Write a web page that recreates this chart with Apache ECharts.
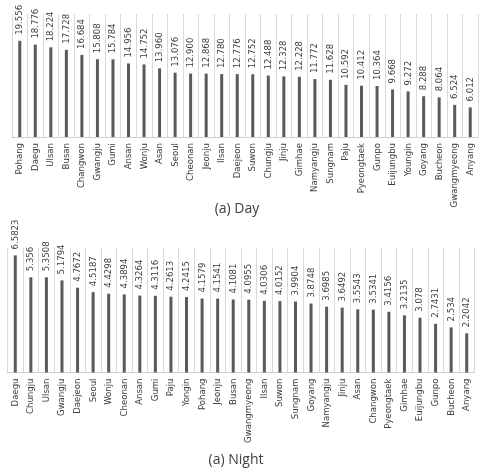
<!DOCTYPE html>
<html>
<head>
<meta charset="utf-8">
<script src="https://cdn.jsdelivr.net/npm/echarts@6/dist/echarts.min.js"></script>
<style>
html,body{margin:0;padding:0;background:#fff;}
#c{width:481px;height:472px;}
</style>
</head>
<body>
<div id="c"></div>
<script>
var dayCats = ['Pohang','Daegu','Ulsan','Busan','Changwon','Gwangju','Gumi','Ansan','Wonju','Asan','Seoul','Cheonan','Jeonju','Ilsan','Daejeon','Suwon','Chungju','Jinju','Gimhae','Namyangju','Sungnam','Paju','Pyeongtaek','Gunpo','Euijungbu','Youngin','Goyang','Bucheon','Gwangmyeong','Anyang'];
var dayVals = [19.556,18.776,18.224,17.728,16.684,15.808,15.784,14.956,14.752,13.960,13.076,12.900,12.868,12.780,12.776,12.752,12.488,12.328,12.228,11.772,11.628,10.592,10.412,10.364,9.668,9.272,8.288,8.064,6.524,6.012];
var nightCats = ['Daegu','Chungju','Ulsan','Gwangju','Daejeon','Seoul','Wonju','Cheonan','Ansan','Gumi','Paju','Yongin','Pohang','Jeonju','Busan','Gwangmyeong','Ilsan','Suwon','Sungnam','Goyang','Namyangju','Jinju','Asan','Changwon','Pyeongtaek','Gimhae','Euijungbu','Gunpo','Bucheon','Anyang'];
var nightVals = [6.5823,5.356,5.3508,5.1794,4.7672,4.5187,4.4298,4.3894,4.3264,4.3116,4.2613,4.2415,4.1579,4.1541,4.1081,4.0955,4.0306,4.0152,3.9904,3.8748,3.6985,3.6492,3.5543,3.5341,3.4156,3.2135,3.078,2.7431,2.534,2.2042];
var captions = ['(a) Day','(a) Night'];

var FONT = '"Liberation Sans Narrow","DejaVu Sans Condensed","Liberation Sans",sans-serif';
var TXT = '#404040';
var BAR = '#5a5a5a';
var GRIDC = '#d9d9d9';

function xAx(idx, cats){
  return {
    type:'category', gridIndex: idx, data: cats,
    axisLine:{show:true, lineStyle:{color:'#cfcfcf', width:1}},
    axisTick:{show:false},
    splitLine:{show:true, interval:0, lineStyle:{color:GRIDC, width:1}},
    axisLabel:{interval:0, rotate:90, margin:6, fontSize:9.5, fontFamily:FONT, color:TXT}
  };
}
function yAx(idx, max){
  return {type:'value', gridIndex: idx, min:0, max:max, show:false, splitLine:{show:false}};
}
function ser(idx, vals, fmt){
  return {
    type:'bar', xAxisIndex: idx, yAxisIndex: idx, data: vals, barWidth:3,
    itemStyle:{color:BAR},
    label:{show:true, position:'top', rotate:90, align:'left', verticalAlign:'middle', distance:6,
      fontSize:9.5, fontFamily:FONT, color:TXT, formatter: fmt},
    animation:false
  };
}

var chart = echarts.init(document.getElementById('c'), null, {renderer:'canvas'});
chart.setOption({
  animation:false,
  grid:[
    {left:12, right:3, top:14, height:123},
    {left:7.5, right:6.5, top:248, height:124.5}
  ],
  xAxis:[xAx(0, dayCats), xAx(1, nightCats)],
  yAxis:[yAx(0, 25), yAx(1, 7)],
  series:[
    ser(0, dayVals, function(p){ return p.value.toFixed(3); }),
    ser(1, nightVals, function(p){ return String(p.value); })
  ],
  graphic:[
    {type:'text', x:237, y:209, style:{text:captions[0], fill:TXT, font:'14px "Open Sans", sans-serif', textAlign:'center', textVerticalAlign:'middle'}},
    {type:'text', x:236, y:460, style:{text:captions[1], fill:TXT, font:'14px "Open Sans", sans-serif', textAlign:'center', textVerticalAlign:'middle'}}
  ]
});
</script>
</body>
</html>
